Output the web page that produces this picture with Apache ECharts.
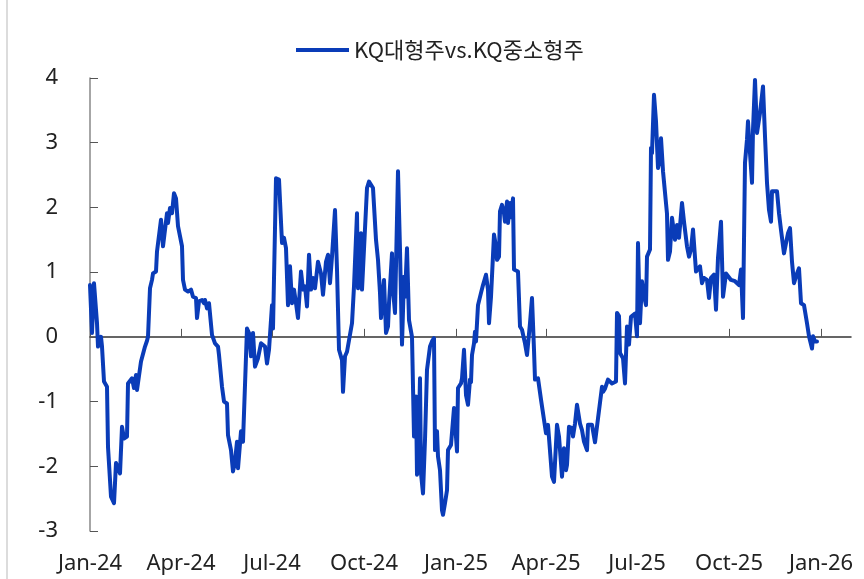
<!DOCTYPE html>
<html>
<head>
<meta charset="utf-8">
<script src="https://cdn.jsdelivr.net/npm/echarts@6/dist/echarts.min.js"></script>
<style>
  html, body { margin: 0; padding: 0; background: #fff; }
  #chart { width: 864px; height: 579px; }
</style>
</head>
<body>
<div id="chart"></div>
<script>
// days since 2024-01-01
const days = [
  0, 2, 4, 7, 8, 11, 12, 14, 17, 18, 21, 24, 26, 28, 30, 32, 34, 37, 38, 42,
  44, 46, 47, 49, 51, 53, 55, 57, 58, 60, 62, 63, 66, 67, 69, 71, 73, 75, 77, 78,
  80, 82, 84, 86, 88, 92, 93, 95, 98, 101, 103, 106, 107, 109, 112, 114, 115, 117, 119, 122,
  125, 128, 129, 132, 134, 137, 138, 141, 143, 145, 147, 148, 151, 153, 155, 157, 159, 161, 163, 165,
  168, 171, 173, 175, 177, 179, 182, 183, 186, 189, 192, 194, 196, 198, 200, 202, 204, 206, 208, 211,
  213, 215, 217, 219, 221, 223, 225, 228, 231, 233, 236, 238, 240, 242, 245, 247, 249, 252, 253, 255,
  257, 262, 264, 267, 268, 271, 272, 274, 277, 279, 281, 283, 286, 288, 290, 291, 292, 294, 296, 298,
  299, 302, 303, 305, 306, 308, 310, 312, 314, 315, 317, 319, 322, 324, 326, 327, 328, 330, 331, 333,
  335, 337, 339, 340, 342, 344, 345, 347, 348, 350, 352, 353, 355, 357, 358, 361, 364, 365, 367, 368,
  371, 372, 374, 376, 378, 380, 381, 382, 384, 385, 386, 388, 391, 393, 396, 398, 399, 401, 404, 406,
  407, 409, 410, 412, 414, 415, 417, 418, 420, 421, 423, 424, 428, 430, 432, 435, 437, 440, 442, 444,
  445, 448, 451, 454, 456, 458, 462, 464, 467, 469, 472, 474, 476, 477, 479, 482, 483, 485, 487, 490,
  492, 494, 497, 498, 502, 505, 508, 512, 513, 515, 518, 522, 526, 527, 529, 530, 533, 535, 537, 538,
  539, 541, 543, 545, 547, 548, 550, 552, 554, 556, 557, 559, 560, 561, 562, 564, 566, 568, 569, 571,
  573, 575, 577, 578, 580, 582, 585, 587, 589, 592, 594, 597, 599, 601, 603, 606, 608, 610, 612, 614,
  617, 619, 621, 624, 626, 628, 631, 633, 636, 638, 641, 645, 649, 651, 653, 655, 657, 658, 660, 662,
  663, 665, 667, 668, 670, 673, 675, 677, 679, 681, 682, 687, 689, 691, 694, 696, 698, 700, 702, 704,
  707, 709, 711, 714, 717, 719, 722, 723, 725, 727
];
const values = [
  0.80, 0.06, 0.83, 0.21, -0.15, 0.00, -0.15, -0.69, -0.77, -1.70, -2.47, -2.57, -1.95, -1.98, -2.11, -1.39, -1.57, -1.54, -0.72, -0.64,
  -0.79, -0.59, -0.82, -0.85, -0.38, -0.36, -0.15, -0.06, 0.00, 0.75, 0.88, 0.98, 1.01, 1.32, 1.35, 1.81, 1.40, 1.42, 1.91, 1.76,
  1.99, 1.91, 2.22, 2.14, 1.71, 1.40, 0.88, 0.73, 0.70, 0.73, 0.62, 0.60, 0.29, 0.55, 0.57, 0.52, 0.57, 0.44, 0.52, 0.03,
  -0.10, -0.15, -0.28, -0.77, -1.00, -1.03, -1.52, -1.75, -2.08, -1.93, -1.62, -2.03, -1.46, -1.62, -1.60, 0.13, 0.06, -0.30, 0.06, -0.46,
  -0.33, -0.10, -0.07, -0.15, -0.41, -0.20, 0.49, 0.13, 2.45, 2.43, 1.45, 1.53, 1.37, 0.49, 1.09, 0.52, 0.73, 0.52, 0.29, 1.01,
  0.73, 0.78, 0.47, 1.27, 0.73, 0.91, 0.75, 1.16, 0.98, 0.65, 1.16, 1.27, 0.83, 1.24, 1.96, 1.04, -0.20, -0.36, -0.85, -0.30,
  -0.23, 0.21, 0.78, 1.91, 0.75, 1.60, 0.73, 0.70, 2.30, 2.40, 2.43, 2.30, 1.50, 1.19, 0.68, 0.29, 0.29, 0.88, 0.06, 0.16,
  0.52, 1.29, 0.73, 0.37, 0.40, 2.56, 1.35, -0.12, 0.93, 0.62, 1.37, 0.26, 0.00, -1.54, -0.92, -2.13, -2.05, -0.64, -2.11, -2.42,
  -1.59, -0.51, -0.48, -0.15, -0.07, -0.02, -1.75, -1.46, -1.85, -2.06, -2.68, -2.75, -2.57, -2.37, -1.75, -1.67, -1.10, -1.10, -1.77, -0.79,
  -0.72, -0.64, -0.20, -0.90, -1.05, -0.66, -0.70, -0.28, -0.10, 0.08, -0.07, 0.49, 0.68, 0.80, 0.96, 0.73, 0.21, 0.62, 1.58, 1.40,
  1.19, 1.24, 1.94, 2.04, 1.91, 1.78, 2.09, 1.76, 2.07, 1.85, 2.14, 1.04, 1.01, 0.16, 0.11, -0.10, -0.28, 0.21, 0.60, -0.20,
  -0.66, -0.64, -0.97, -1.28, -1.49, -1.36, -2.16, -2.24, -1.36, -1.54, -2.16, -1.72, -2.06, -1.98, -1.39, -1.41, -1.54, -1.34, -1.05, -1.34,
  -1.44, -1.62, -1.75, -1.36, -1.36, -1.63, -1.26, -0.77, -0.85, -0.80, -0.66, -0.72, -0.69, 0.37, 0.32, -0.25, -0.33, -0.72, 0.16, 0.16,
  -0.12, 0.31, 0.34, 0.36, 0.01, 1.45, 0.21, 0.86, 0.63, 0.49, 1.24, 1.27, 1.35, 2.92, 2.84, 3.74, 3.33, 2.61, 2.68, 3.07,
  2.56, 2.53, 1.90, 1.19, 1.32, 1.84, 1.50, 1.73, 1.53, 2.07, 1.78, 1.40, 1.24, 1.35, 1.66, 1.01, 0.98, 1.09, 0.83, 0.91,
  0.88, 0.60, 0.91, 0.96, 0.42, 1.22, 1.78, 0.62, 0.98, 1.01, 0.88, 0.86, 0.80, 1.04, 0.29, 2.69, 3.05, 3.33, 2.84, 2.38,
  3.20, 3.97, 3.15, 3.12, 3.46, 3.87, 3.10, 2.38, 1.96, 1.78, 2.25, 2.25, 1.91, 1.65, 1.29, 1.45, 1.60, 1.68, 1.16, 0.83,
  0.98, 1.06, 0.52, 0.49, 0.21, 0.01, -0.18, 0.01, -0.07, -0.07
];
const seriesName = 'KQ대형주vs.KQ중소형주';
// quarter tick months (offset from Jan 2024)
const tickMonths = [0, 3, 6, 9, 12, 15, 18, 21, 24];
const monthNames = ['Jan', 'Feb', 'Mar', 'Apr', 'May', 'Jun', 'Jul', 'Aug', 'Sep', 'Oct', 'Nov', 'Dec'];

const chart = echarts.init(document.getElementById('chart'));
const font = 'Noto Sans';
const DAY = 86400000;
const t0 = Date.UTC(2024, 0, 1);
// x is day number since 2024-01-01
const ticks = tickMonths.map(m => Math.round((Date.UTC(2024, m, 1) - t0) / DAY));
const xMax = Math.round((Date.UTC(2026, 0, 31) - t0) / DAY);
const fmt = (v) => {
  const d = new Date(t0 + v * DAY);
  return monthNames[d.getUTCMonth()] + '-' + String(d.getUTCFullYear()).slice(2);
};

const option = {
  animation: false,
  backgroundColor: '#fff',
  textStyle: { fontFamily: font },
  legend: {
    top: 34,
    left: 291,
    icon: 'rect',
    itemWidth: 53,
    itemHeight: 4,
    itemGap: 10,
    textStyle: { fontFamily: 'Noto Sans CJK KR', fontSize: 22, color: '#222' },
    data: [seriesName]
  },
  grid: { left: 90, right: 13, top: 78, bottom: 48, containLabel: false },
  xAxis: [
    {
      type: 'value',
      min: 0,
      max: xMax,
      position: 'bottom',
      axisLine: { show: false, onZero: false },
      axisTick: { show: false },
      splitLine: { show: false },
      axisLabel: {
        customValues: ticks,
        formatter: fmt,
        fontSize: 22,
        color: '#222',
        margin: 22,
        fontFamily: font
      }
    },
    {
      type: 'value',
      min: 0,
      max: xMax,
      position: 'bottom',
      axisLine: { show: true, onZero: true, lineStyle: { color: '#333', width: 1.5 } },
      axisTick: { show: true, inside: true, length: 8, customValues: ticks, lineStyle: { color: '#555' } },
      axisLabel: { show: false },
      splitLine: { show: false }
    }
  ],
  yAxis: {
    type: 'value',
    min: -3,
    max: 4,
    interval: 1,
    axisLine: { show: true, lineStyle: { color: '#888', width: 1.5 } },
    axisTick: { show: true, inside: true, length: 8, lineStyle: { color: '#555' } },
    splitLine: { show: false },
    axisLabel: { fontSize: 22, color: '#222', margin: 32, fontFamily: font }
  },
  graphic: [
    { type: 'line', shape: { x1: 7, y1: 0, x2: 7, y2: 579 }, style: { stroke: '#dcdcdc', lineWidth: 2 } }
  ],
  series: [
    {
      name: seriesName,
      type: 'line',
      xAxisIndex: 0,
      showSymbol: false,
      symbol: 'none',
      data: days.map((d, i) => [d, values[i]]),
      lineStyle: { color: '#0a3cb8', width: 4, join: 'round', cap: 'round' },
      itemStyle: { color: '#0a3cb8' }
    }
  ]
};
chart.setOption(option);
</script>
</body>
</html>
